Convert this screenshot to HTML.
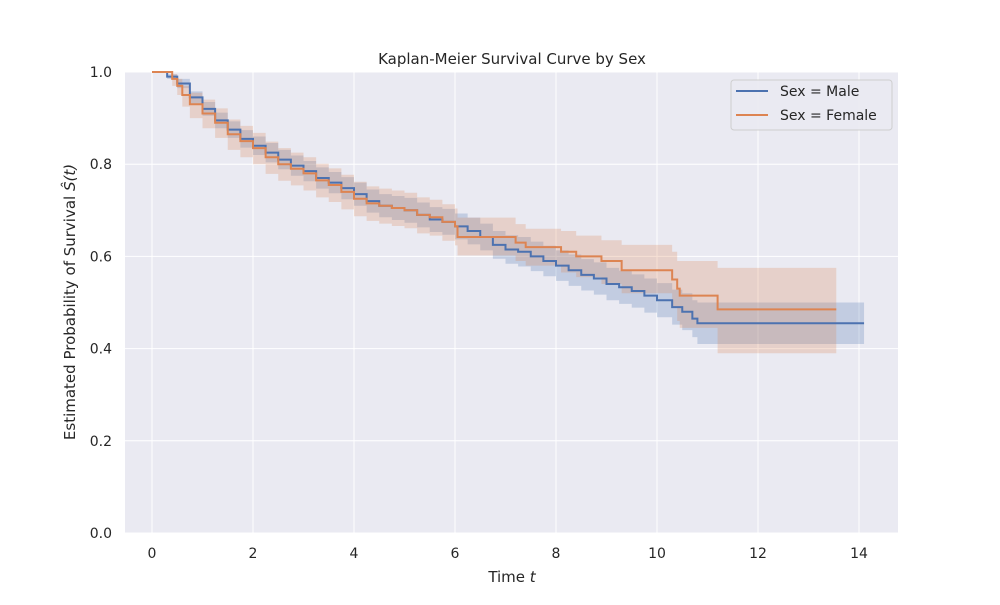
<!DOCTYPE html>
<html><head><meta charset="utf-8"><style>
body{margin:0;background:#fff;font-family:"Liberation Sans","DejaVu Sans",sans-serif;}
svg text{font-family:"DejaVu Sans","Liberation Sans",sans-serif;fill:#262626;}
</style></head><body>
<svg id="chart" width="1000" height="600">
<rect x="0" y="0" width="1000" height="600" fill="#fff"/>
<rect x="125" y="72" width="773" height="461" fill="#eaeaf2"/>
<g id="grid"></g><g id="bands"></g><g id="lines"></g><g id="ticks"></g>
<text x="512" y="64" text-anchor="middle" font-size="15">Kaplan-Meier Survival Curve by Sex</text>
<text x="512" y="582" text-anchor="middle" font-size="15">Time <tspan font-style="italic">t</tspan></text>
<text transform="translate(75,302) rotate(-90)" text-anchor="middle" font-size="15">Estimated Probability of Survival <tspan font-style="italic">Ŝ(t)</tspan></text>
<g>
<rect x="731" y="80" width="161" height="50" rx="3" fill="#eaeaf2" stroke="#cccccc" opacity="0.9"/>
<line x1="736" y1="91" x2="768" y2="91" stroke="#4c72b0" stroke-width="2"/>
<text x="780" y="96" font-size="14">Sex = Male</text>
<line x1="736" y1="115" x2="768" y2="115" stroke="#dd8452" stroke-width="2"/>
<text x="780" y="120" font-size="14">Sex = Female</text>
</g>
</svg>
<script>
const xTicks=[0,2,4,6,8,10,12,14];
const yTicks=[0.0,0.2,0.4,0.6,0.8,1.0];
const maleT=[0,0.3,0.5,0.75,1.0,1.25,1.5,1.75,2.0,2.25,2.5,2.75,3.0,3.25,3.5,3.75,4.0,4.25,4.5,4.75,5.0,5.25,5.5,5.75,6.0,6.25,6.5,6.75,7.0,7.25,7.5,7.75,8.0,8.25,8.5,8.75,9.0,9.25,9.5,9.75,10.0,10.3,10.5,10.7,10.8];
const maleS=[1,0.99,0.975,0.945,0.92,0.895,0.875,0.855,0.84,0.825,0.81,0.797,0.785,0.77,0.76,0.748,0.735,0.72,0.71,0.705,0.70,0.69,0.68,0.675,0.665,0.655,0.642,0.625,0.615,0.61,0.60,0.59,0.58,0.57,0.56,0.552,0.54,0.533,0.525,0.515,0.505,0.49,0.48,0.465,0.455];
const maleLo=[1,0.985,0.965,0.93,0.905,0.878,0.857,0.836,0.82,0.804,0.789,0.775,0.763,0.747,0.737,0.724,0.71,0.695,0.685,0.679,0.673,0.663,0.653,0.647,0.637,0.626,0.613,0.595,0.584,0.578,0.568,0.557,0.547,0.536,0.526,0.517,0.505,0.497,0.489,0.478,0.468,0.452,0.44,0.425,0.41];
const maleHi=[1,0.995,0.985,0.958,0.935,0.912,0.893,0.874,0.86,0.846,0.831,0.819,0.807,0.793,0.783,0.772,0.76,0.745,0.735,0.731,0.727,0.717,0.707,0.703,0.693,0.684,0.671,0.655,0.646,0.642,0.632,0.623,0.613,0.604,0.594,0.587,0.575,0.569,0.561,0.552,0.542,0.528,0.52,0.505,0.50];
const maleEnd=14.1;
const femT=[0,0.4,0.5,0.6,0.75,1.0,1.25,1.5,1.75,2.0,2.25,2.5,2.75,3.0,3.25,3.5,3.75,4.0,4.25,4.5,4.75,5.0,5.25,5.5,5.75,6.0,6.05,7.2,7.4,8.1,8.4,8.9,9.3,10.3,10.4,10.45,11.2];
const femS=[1,0.985,0.97,0.95,0.93,0.91,0.89,0.865,0.85,0.835,0.815,0.80,0.79,0.78,0.765,0.755,0.74,0.725,0.715,0.71,0.705,0.70,0.69,0.685,0.675,0.665,0.642,0.63,0.62,0.61,0.60,0.59,0.57,0.55,0.53,0.515,0.485];
const femLo=[1,0.97,0.95,0.925,0.90,0.878,0.857,0.831,0.815,0.80,0.779,0.764,0.754,0.743,0.728,0.718,0.702,0.687,0.677,0.671,0.666,0.661,0.65,0.645,0.634,0.624,0.602,0.59,0.58,0.565,0.555,0.54,0.52,0.49,0.46,0.445,0.39];
const femHi=[1,0.995,0.985,0.97,0.955,0.94,0.921,0.897,0.883,0.868,0.849,0.835,0.825,0.815,0.801,0.791,0.777,0.762,0.752,0.747,0.743,0.738,0.728,0.723,0.713,0.704,0.684,0.67,0.66,0.655,0.645,0.635,0.625,0.61,0.59,0.59,0.575];
const femEnd=13.55;
const X=t=>152+t*50.5, Y=v=>533-v*461;
const NS="http://www.w3.org/2000/svg";
function mk(tag,attrs,parent){const e=document.createElementNS(NS,tag);for(const k in attrs)e.setAttribute(k,attrs[k]);document.getElementById(parent).appendChild(e);return e;}
xTicks.forEach(t=>{
 const g=mk('line',{x1:X(t),x2:X(t),y1:72,y2:533,stroke:'#fff','stroke-width':1},'grid');
 
 
 const l=mk('text',{x:X(t),y:558,'text-anchor':'middle','font-size':14},'ticks');l.textContent=t;
 
 
});
yTicks.forEach(v=>{
 const g=mk('line',{x1:125,x2:898,y1:Y(v),y2:Y(v),stroke:'#fff','stroke-width':1},'grid');
 
 
 const l=mk('text',{x:112,y:Y(v)+5,'text-anchor':'end','font-size':14},'ticks');l.textContent=v.toFixed(1);
 
 
});
function stepPath(T,S,end){let d=`M${X(T[0])},${Y(S[0])}`;for(let i=1;i<T.length;i++){d+=`H${X(T[i])}V${Y(S[i])}`;}d+=`H${X(end)}`;return d;}
function band(T,Lo,Hi,end){let d=`M${X(T[0])},${Y(Hi[0])}`;for(let i=1;i<T.length;i++)d+=`H${X(T[i])}V${Y(Hi[i])}`;d+=`H${X(end)}V${Y(Lo[Lo.length-1])}`;for(let i=T.length-1;i>=1;i--)d+=`H${X(T[i])}V${Y(Lo[i-1])}`;d+=`H${X(T[0])}Z`;return d;}
const b1=mk('path',{d:band(maleT,maleLo,maleHi,maleEnd),fill:'#4c72b0','fill-opacity':0.25},'bands');


const b2=mk('path',{d:band(femT,femLo,femHi,femEnd),fill:'#dd8452','fill-opacity':0.25},'bands');


const l1=mk('path',{d:stepPath(maleT,maleS,maleEnd),fill:'none',stroke:'#4c72b0','stroke-width':2},'lines');


const l2=mk('path',{d:stepPath(femT,femS,femEnd),fill:'none',stroke:'#dd8452','stroke-width':2},'lines');


</script>
</body></html>
